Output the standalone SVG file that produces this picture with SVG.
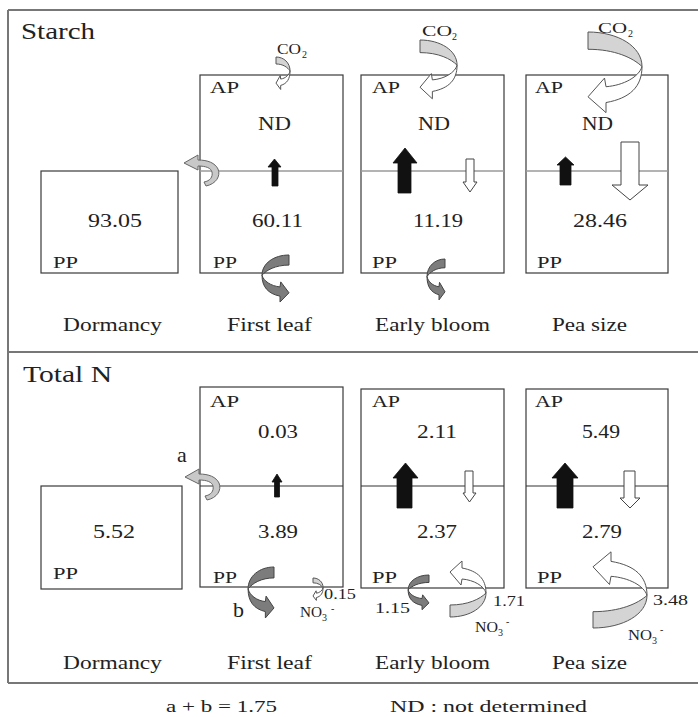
<svg xmlns="http://www.w3.org/2000/svg" xmlns:xlink="http://www.w3.org/1999/xlink" width="698" height="717" viewBox="0 0 698 717">
<style>
.t{font-family:'Liberation Serif','DejaVu Serif','Noto Serif',serif;fill:#222}
.h{font-size:24px}
.lab{font-size:19px}
.ap{font-size:17px}
.sm{font-size:15px}
.sub{font-size:10px}
.box{fill:none;stroke:#3a3a3a;stroke-width:1.2}
.divS{stroke:#9a9a9a;stroke-width:1.5}
.divN{stroke:#333;stroke-width:1.1}
.frame{stroke:#777;stroke-width:2;fill:none}
.blk{fill:#111;stroke:#111;stroke-width:0.8}
.wht{fill:#fff;stroke:#444;stroke-width:1}
.cg{fill:#d4d4d4;stroke:#555;stroke-width:1;vector-effect:non-scaling-stroke}
.cw{fill:#fff;stroke:#555;stroke-width:1;vector-effect:non-scaling-stroke}
.cd{fill:#7c7c7c;stroke:#444;stroke-width:1;vector-effect:non-scaling-stroke}
.cs{fill:#c8c8c8;stroke:#666;stroke-width:1}
</style>
<defs>
<g id="curvL">
<path class="cg" d="M0,0 C20,0 36,10 36,24 C30,18 18,12 0,12 Z"/>
<path class="cw" d="M36,24 C36,38 28,46 12,49 L12,56 L0,45 L11,32 L12,38 C24,37 34,31 36,24 Z"/>
</g>
<g id="curvD">
<path class="cd" d="M0,0 C20,0 36,10 36,24 C30,18 18,12 0,12 Z"/>
<path class="cd" d="M36,24 C36,38 28,46 12,49 L12,56 L0,45 L11,32 L12,38 C24,37 34,31 36,24 Z"/>
</g>
<path id="sideArrow" class="cs" d="M206,186 C216,184 221,176 218,169 C215,163 208,160 198,160 L198,155 L184,163 L198,170 L198,166 C206,166 211,168 212,172 C213,177 210,181 204,182 Z"/>
</defs>

<g id="frame">
<line class="frame" x1="8" y1="10" x2="698" y2="10"/>
<line class="frame" x1="8" y1="10" x2="8" y2="683"/>
<line class="frame" x1="8" y1="352" x2="698" y2="352"/>
<line class="frame" x1="8" y1="683" x2="698" y2="683"/>
</g>

<g font-family="'Liberation Serif','DejaVu Serif',serif">
<!-- Starch panel -->
<g id="starch-title"><text class="t h" x="21" y="39" textLength="74" lengthAdjust="spacingAndGlyphs">Starch</text></g>

<g id="starch-dormancy">
<rect class="box" x="41" y="171" width="137" height="102"/>
<text class="t lab" x="88" y="227" textLength="54" lengthAdjust="spacingAndGlyphs">93.05</text>
<text class="t ap" x="53" y="268" textLength="25" lengthAdjust="spacingAndGlyphs">PP</text>
</g>

<g id="starch-firstleaf">
<rect class="box" x="200" y="75" width="143" height="198"/>
<line class="divS" x1="200" y1="171" x2="343" y2="171"/>
<text class="t ap" x="210" y="93" textLength="29" lengthAdjust="spacingAndGlyphs">AP</text>
<text class="t lab" x="258" y="130" textLength="33" lengthAdjust="spacingAndGlyphs">ND</text>
<text class="t lab" x="252" y="227" textLength="51" lengthAdjust="spacingAndGlyphs">60.11</text>
<text class="t ap" x="213" y="268" textLength="24" lengthAdjust="spacingAndGlyphs">PP</text>
</g>

<g id="starch-earlybloom">
<rect class="box" x="361" y="75" width="143" height="198"/>
<line class="divS" x1="361" y1="171" x2="504" y2="171"/>
<text class="t ap" x="372" y="93" textLength="28" lengthAdjust="spacingAndGlyphs">AP</text>
<text class="t lab" x="418" y="130" textLength="32" lengthAdjust="spacingAndGlyphs">ND</text>
<text class="t lab" x="413" y="227" textLength="50" lengthAdjust="spacingAndGlyphs">11.19</text>
<text class="t ap" x="372" y="268" textLength="25" lengthAdjust="spacingAndGlyphs">PP</text>
</g>

<g id="starch-peasize">
<rect class="box" x="526" y="75" width="142" height="198"/>
<line class="divS" x1="526" y1="171" x2="668" y2="171"/>
<text class="t ap" x="535" y="93" textLength="28" lengthAdjust="spacingAndGlyphs">AP</text>
<text class="t lab" x="582" y="130" textLength="31" lengthAdjust="spacingAndGlyphs">ND</text>
<text class="t lab" x="573" y="227" textLength="54" lengthAdjust="spacingAndGlyphs">28.46</text>
<text class="t ap" x="537" y="268" textLength="25" lengthAdjust="spacingAndGlyphs">PP</text>
</g>

<!-- Total N panel -->
<g id="n-title"><text class="t h" x="23" y="382" textLength="89" lengthAdjust="spacingAndGlyphs">Total N</text></g>

<g id="n-dormancy">
<rect class="box" x="41" y="486" width="141" height="103"/>
<text class="t lab" x="93" y="538" textLength="42" lengthAdjust="spacingAndGlyphs">5.52</text>
<text class="t ap" x="53" y="579" textLength="25" lengthAdjust="spacingAndGlyphs">PP</text>
</g>

<g id="n-firstleaf">
<rect class="box" x="200" y="387" width="143" height="200"/>
<line class="divN" x1="200" y1="486" x2="343" y2="486"/>
<text class="t ap" x="210" y="407" textLength="29" lengthAdjust="spacingAndGlyphs">AP</text>
<text class="t lab" x="258" y="438" textLength="40" lengthAdjust="spacingAndGlyphs">0.03</text>
<text class="t lab" x="258" y="538" textLength="40" lengthAdjust="spacingAndGlyphs">3.89</text>
<text class="t ap" x="213" y="583" textLength="24" lengthAdjust="spacingAndGlyphs">PP</text>
</g>

<g id="n-earlybloom">
<rect class="box" x="361" y="389" width="143" height="199"/>
<line class="divN" x1="361" y1="486" x2="504" y2="486"/>
<text class="t ap" x="372" y="407" textLength="28" lengthAdjust="spacingAndGlyphs">AP</text>
<text class="t lab" x="417" y="438" textLength="40" lengthAdjust="spacingAndGlyphs">2.11</text>
<text class="t lab" x="417" y="538" textLength="40" lengthAdjust="spacingAndGlyphs">2.37</text>
<text class="t ap" x="372" y="583" textLength="25" lengthAdjust="spacingAndGlyphs">PP</text>
</g>

<g id="n-peasize">
<rect class="box" x="526" y="389" width="142" height="199"/>
<line class="divN" x1="526" y1="486" x2="668" y2="486"/>
<text class="t ap" x="535" y="407" textLength="28" lengthAdjust="spacingAndGlyphs">AP</text>
<text class="t lab" x="582" y="438" textLength="38" lengthAdjust="spacingAndGlyphs">5.49</text>
<text class="t lab" x="582" y="538" textLength="40" lengthAdjust="spacingAndGlyphs">2.79</text>
<text class="t ap" x="537" y="583" textLength="25" lengthAdjust="spacingAndGlyphs">PP</text>
</g>
</g>

<g id="connectors">
<path class="blk" d="M272,186 L272,167 L268,167 L274.5,159 L281,167 L278,167 L278,186 Z"/>
<path class="blk" d="M398,193 L398,163 L393,163 L405,148 L417,163 L411,163 L411,193 Z"/>
<path class="wht" d="M466,159 L474,159 L474,182 L477,182 L470,192 L463,182 L466,182 Z"/>
<path class="blk" d="M560,185 L560,165 L557,165 L565.5,157 L574,165 L571,165 L571,185 Z"/>
<path class="wht" d="M621,142 L639,142 L639,185 L648,185 L630,200 L612,185 L621,185 Z"/>
<path class="blk" d="M274.5,497 L274.5,482 L272,482 L277,474 L282,482 L279.5,482 L279.5,497 Z"/>
<path class="blk" d="M397,508 L397,478 L393,478 L405.5,463 L418,478 L412,478 L412,508 Z"/>
<path class="wht" d="M465,471 L473,471 L473,493 L476,493 L469.5,502 L463,493 L465,493 Z"/>
<path class="blk" d="M557,508 L557,478 L552,478 L565,463 L578,478 L573,478 L573,508 Z"/>
<path class="wht" d="M624,471 L635,471 L635,498 L640,498 L630,508 L620,498 L624,498 Z"/>
<use xlink:href="#curvL" href="#curvL" transform="translate(276,57) scale(0.39,0.58)"/>
<use xlink:href="#curvL" href="#curvL" transform="translate(420,40) scale(1.03,1.05)"/>
<use xlink:href="#curvL" href="#curvL" transform="translate(588,32) scale(1.5,1.44)"/>
<use xlink:href="#sideArrow" href="#sideArrow"/>
<use xlink:href="#curvD" href="#curvD" transform="translate(289,255) scale(-0.75,0.84)"/>
<use xlink:href="#curvD" href="#curvD" transform="translate(445,259) scale(-0.5,0.73)"/>
<use xlink:href="#sideArrow" href="#sideArrow" transform="translate(1,314)"/>
<use xlink:href="#curvD" href="#curvD" transform="translate(274,567) scale(-0.72,0.91)"/>
<use xlink:href="#curvL" href="#curvL" transform="translate(313,578) scale(0.28,0.4)"/>
<use xlink:href="#curvD" href="#curvD" transform="translate(429,575) scale(-0.58,0.62)"/>
<use xlink:href="#curvL" href="#curvL" transform="translate(450,617) scale(1.0,-1.0)"/>
<use xlink:href="#curvL" href="#curvL" transform="translate(593,628) scale(1.5,-1.36)"/>
</g>

<g id="labels" font-family="'Liberation Serif','DejaVu Serif',serif">
<text class="t sm" x="277" y="54" textLength="24" lengthAdjust="spacingAndGlyphs">CO</text><text class="t sub" x="302" y="58">2</text>
<text class="t sm" x="422" y="36" textLength="30" lengthAdjust="spacingAndGlyphs">CO</text><text class="t sub" x="452" y="40">2</text>
<text class="t sm" x="598" y="33" textLength="29" lengthAdjust="spacingAndGlyphs">CO</text><text class="t sub" x="628" y="37">2</text>
<text class="t sm" x="300" y="617" textLength="22" lengthAdjust="spacingAndGlyphs">NO</text><text class="t sub" x="322" y="621">3</text><text class="t sub" x="331" y="612">-</text>
<text class="t sm" x="475" y="632" textLength="23" lengthAdjust="spacingAndGlyphs">NO</text><text class="t sub" x="498" y="636">3</text><text class="t sub" x="506" y="625">-</text>
<text class="t sm" x="628" y="640" textLength="24" lengthAdjust="spacingAndGlyphs">NO</text><text class="t sub" x="652" y="644">3</text><text class="t sub" x="660" y="633">-</text>
<text class="t sm" x="324" y="599" textLength="32" lengthAdjust="spacingAndGlyphs">0.15</text>
<text class="t sm" x="375" y="613" textLength="35" lengthAdjust="spacingAndGlyphs">1.15</text>
<text class="t sm" x="493" y="606" textLength="32" lengthAdjust="spacingAndGlyphs">1.71</text>
<text class="t sm" x="653" y="605" textLength="35" lengthAdjust="spacingAndGlyphs">3.48</text>
<text class="t" style="font-size:22px" x="177" y="462">a</text>
<text class="t" style="font-size:22px" x="233" y="617">b</text>
<text class="t lab" x="63" y="331" textLength="99" lengthAdjust="spacingAndGlyphs">Dormancy</text>
<text class="t lab" x="227" y="331" textLength="85" lengthAdjust="spacingAndGlyphs">First leaf</text>
<text class="t lab" x="375" y="331" textLength="115" lengthAdjust="spacingAndGlyphs">Early bloom</text>
<text class="t lab" x="552" y="331" textLength="75" lengthAdjust="spacingAndGlyphs">Pea size</text>
<text class="t lab" x="63" y="669" textLength="99" lengthAdjust="spacingAndGlyphs">Dormancy</text>
<text class="t lab" x="227" y="669" textLength="85" lengthAdjust="spacingAndGlyphs">First leaf</text>
<text class="t lab" x="375" y="669" textLength="115" lengthAdjust="spacingAndGlyphs">Early bloom</text>
<text class="t lab" x="552" y="669" textLength="75" lengthAdjust="spacingAndGlyphs">Pea size</text>
<text class="t ap" x="166" y="712" textLength="111" lengthAdjust="spacingAndGlyphs">a + b = 1.75</text>
<text class="t ap" x="390" y="712" textLength="197" lengthAdjust="spacingAndGlyphs">ND : not determined</text>
</g>
</svg>
